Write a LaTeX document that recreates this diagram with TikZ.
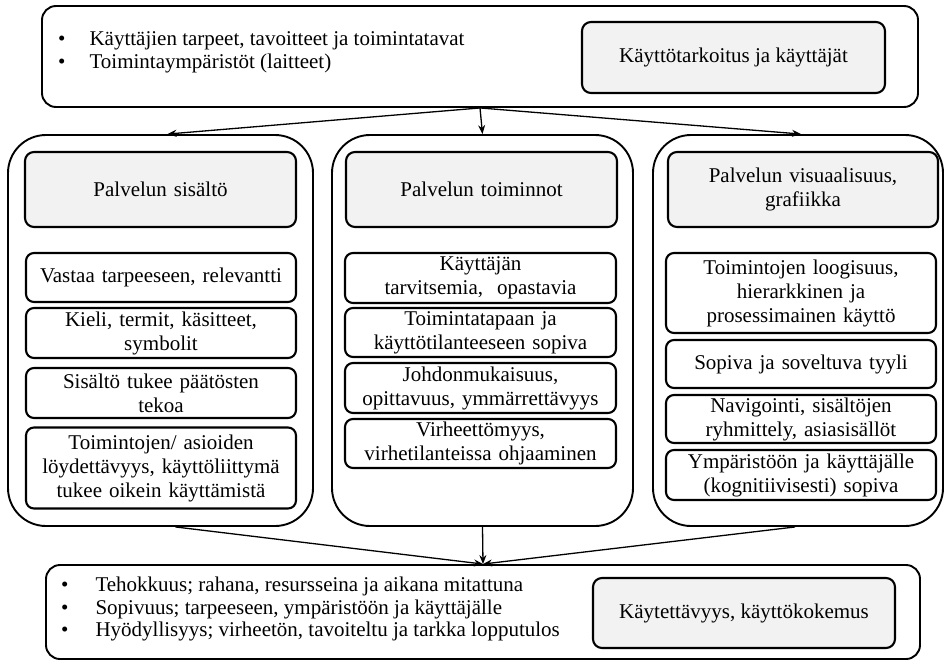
\documentclass[tikz,border=0pt]{standalone}
\usepackage{fontspec}
\setmainfont{Liberation Serif}
\usetikzlibrary{arrows.meta,calc}
\definecolor{hdrgray}{HTML}{F2F2F2}
\tikzset{
  outerbox/.style={draw, line width=1.9pt, rounded corners=14pt, inner sep=0pt},
  colbox/.style={draw, line width=1.9pt, rounded corners=38pt, inner sep=0pt},
  hdrbox/.style={draw, line width=2.1pt, rounded corners=9pt, fill=hdrgray, align=center,
    font=\fontsize{21}{24}\selectfont, inner sep=0pt},
  itembox/.style={draw, line width=2.1pt, rounded corners=8pt, align=center,
    font=\fontsize{21}{24}\selectfont, inner sep=0pt, minimum width=270pt, text width=262pt},
  bullets/.style={anchor=west, inner sep=0pt, align=left},
  arr/.style={-{Stealth[length=9pt,width=7pt]}, line width=1.3pt},
}
\begin{document}
\begin{tikzpicture}[x=1pt,y=-1pt]
\useasboundingbox (0,0) rectangle (944,664);

% top
\node[outerbox, minimum width=876pt, minimum height=101pt] (top) at (480,56.5) {};
\node[hdrbox, minimum width=303pt, minimum height=71pt] (topgray) at (733.5,57.5) {Käyttötarkoitus ja käyttäjät};
\node[bullets, font=\fontsize{21}{23}\selectfont] (toplist) at (58,52.5)
  {\begin{tabular}{@{}l@{\hspace{24pt}}l@{}}
   • & Käyttäjien tarpeet, tavoitteet ja toimintatavat\\
   • & Toimintaympäristöt (laitteet)
   \end{tabular}};

% columns
\node[colbox, minimum width=305pt, minimum height=391pt] (colL) at (160.5,330.5) {};
\node[colbox, minimum width=301pt, minimum height=391pt] (colM) at (482.5,330.5) {};
\node[colbox, minimum width=290pt, minimum height=391pt] (colR) at (798,330.5) {};

% headers
\node[hdrbox, minimum width=271pt, minimum height=75pt, text width=262pt] (hL) at (160.5,189.5) {Palvelun sisältö};
\node[hdrbox, minimum width=271pt, minimum height=75pt, text width=262pt] (hM) at (481.5,189.5) {Palvelun toiminnot};
\node[hdrbox, minimum width=270pt, minimum height=75pt, text width=262pt] (hR) at (803,189.5) {Palvelun visuaalisuus,\\ grafiikka};

% left items
\node[itembox, minimum height=49pt] (l1) at (161,277.5) {Vastaa tarpeeseen, relevantti};
\node[itembox, minimum height=50pt] (l2) at (161,333) {Kieli, termit, käsitteet,\\ symbolit};
\node[itembox, minimum height=50pt] (l3) at (161,393) {Sisältö tukee päätösten\\ tekoa};
\node[itembox, minimum height=81pt] (l4) at (161,468) {Toimintojen/ asioiden\\ löydettävyys, käyttöliittymä\\ tukee oikein käyttämistä};

% middle items
\node[itembox, minimum width=271pt, minimum height=50pt] (m1) at (480.5,278) {Käyttäjän\\ tarvitsemia,~ opastavia};
\node[itembox, minimum width=271pt, minimum height=49pt] (m2) at (480.5,332.5) {Toimintatapaan ja\\ käyttötilanteeseen sopiva};
\node[itembox, minimum width=271pt, minimum height=50pt] (m3) at (480.5,388) {Johdonmukaisuus,\\ opittavuus, ymmärrettävyys};
\node[itembox, minimum width=271pt, minimum height=49pt] (m4) at (480.5,443.5) {Virheettömyys,\\ virhetilanteissa ohjaaminen};

% right items
\node[itembox, minimum height=80pt] (r1) at (801,293) {Toimintojen loogisuus,\\ hierarkkinen ja\\ prosessimainen käyttö};
\node[itembox, minimum height=48pt] (r2) at (801,364) {Sopiva ja soveltuva tyyli};
\node[itembox, minimum height=48pt] (r3) at (801,419) {Navigointi, sisältöjen\\ ryhmittely, asiasisällöt};
\node[itembox, minimum height=50pt] (r4) at (801,475) {Ympäristöön ja käyttäjälle\\ (kognitiivisesti) sopiva};

% bottom
\node[outerbox, minimum width=874pt, minimum height=94pt] (bot) at (483,612) {};
\node[hdrbox, minimum width=302pt, minimum height=70pt] (botgray) at (744,613) {Käytettävyys, käyttökokemus};
\node[bullets, font=\fontsize{21}{22.5}\selectfont] (botlist) at (61,609.5)
  {\begin{tabular}{@{}l@{\hspace{27pt}}l@{}}
   • & Tehokkuus; rahana, resursseina ja aikana mitattuna\\
   • & Sopivuus; tarpeeseen, ympäristöön ja käyttäjälle\\
   • & Hyödyllisyys; virheetön, tavoiteltu ja tarkka lopputulos
   \end{tabular}};

% arrows
\draw[arr] (top.south) -- ($(colL.north)+(7,0)$);
\draw[arr] (top.south) -- (colM.north);
\draw[arr] (top.south) -- ($(colR.north)+(3,0)$);
\draw[arr] ($(colL.south)+(15,0)$) -- (bot.north);
\draw[arr] (colM.south) -- (bot.north);
\draw[arr] ($(colR.south)+(-3,0)$) -- (bot.north);
\end{tikzpicture}
\end{document}
